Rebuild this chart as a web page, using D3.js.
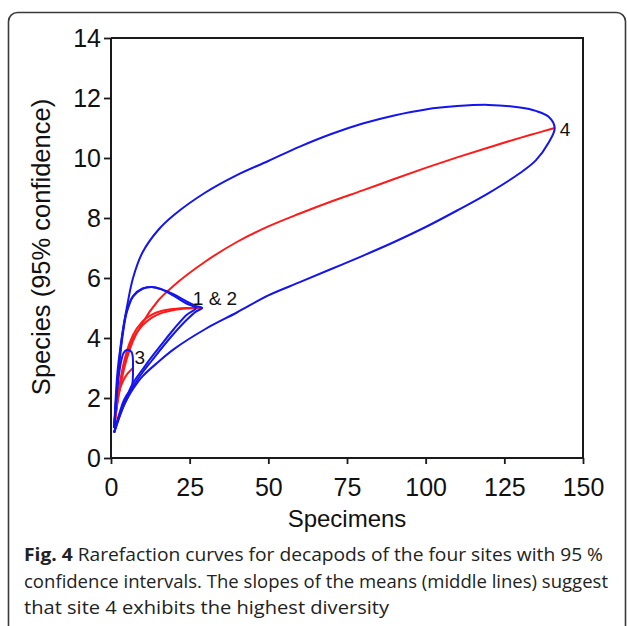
<!DOCTYPE html>
<meta charset="utf-8">
<script src="https://cdn.jsdelivr.net/npm/d3@7"></script>
<style>
  body { margin: 0; background: #fff; }
  svg { display: block; }
</style>
<svg></svg>
<script>
// ---- data ----
// site 1
var x1 = [1, 2, 3, 4, 5, 7, 10, 13, 16, 20, 24, 27];
var mean1 = [1, 1.9, 2.6, 3.15, 3.55, 4.1, 4.55, 4.78, 4.9, 4.97, 5.0, 5.0];
var upper1 = [1, 2.5, 3.6, 4.4, 4.9, 5.4, 5.65, 5.7, 5.62, 5.4, 5.15, 5.0];
var lower1 = [0.85, 1.2, 1.5, 1.8, 2.05, 2.5, 2.95, 3.38, 3.78, 4.3, 4.77, 5.0];
// site 2
var x2 = [1, 2, 3, 4, 5, 7, 10, 13, 16, 20, 24, 27, 29];
var mean2 = [1, 1.85, 2.5, 3.05, 3.45, 3.98, 4.42, 4.68, 4.83, 4.93, 4.98, 5.0, 5.0];
var upper2 = [1, 2.4, 3.5, 4.3, 4.85, 5.38, 5.64, 5.7, 5.63, 5.45, 5.22, 5.07, 5.0];
var lower2 = [0.85, 1.15, 1.45, 1.72, 1.95, 2.38, 2.85, 3.25, 3.65, 4.15, 4.6, 4.88, 5.0];
// site 3
var x3 = [1, 2, 3, 4, 5, 6.5, 7];
var mean3 = [1, 1.95, 2.35, 2.6, 2.78, 2.95, 3.0];
var upper3 = [1, 2.3, 3.1, 3.5, 3.6, 3.54, 3.0];
var lower3 = [0.85, 1.25, 1.6, 1.9, 2.1, 2.32, 3.0];
// site 4
var x4 = [1, 2, 3, 4, 5, 7, 10, 15, 20, 30, 40, 50, 60, 70, 80, 90, 100, 110, 120, 130, 135, 139, 141];
var mean4 = [1, 1.8, 2.4, 2.9, 3.3, 3.9, 4.5, 5.25, 5.75, 6.55, 7.2, 7.72, 8.15, 8.55, 8.92, 9.3, 9.67, 10.02, 10.35, 10.67, 10.82, 10.94, 11.0];
var upper4 = [1, 2.8, 3.7, 4.4, 5.0, 6.0, 6.85, 7.6, 8.1, 8.85, 9.43, 9.9, 10.38, 10.8, 11.15, 11.42, 11.62, 11.73, 11.77, 11.68, 11.57, 11.38, 11.0];
var lower4 = [0.85, 1.2, 1.5, 1.75, 1.95, 2.3, 2.72, 3.2, 3.63, 4.3, 4.85, 5.42, 5.86, 6.3, 6.74, 7.2, 7.7, 8.25, 8.83, 9.5, 9.92, 10.5, 11.0];

var xTicks = [0, 25, 50, 75, 100, 125, 150];
var yTicks = [0, 2, 4, 6, 8, 10, 12, 14];

var siteLabels = ["1 & 2", "3", "4"];
var siteLabelPos = [[26, 5.33], [7.5, 3.35], [142.6, 10.95]];

var captionLines = [
  ["Fig. 4", " Rarefaction curves for decapods of the four sites with 95 %"],
  ["", "confidence intervals. The slopes of the means (middle lines) suggest"],
  ["", "that site 4 exhibits the highest diversity"]
];

// ---- layout ----
var W = 627, H = 626;
var svg = d3.select("svg").attr("width", W).attr("height", H);

// figure frame
svg.append("rect")
  .attr("x", 8.5).attr("y", 12.5)
  .attr("width", 617).attr("height", 660)
  .attr("rx", 9)
  .attr("fill", "none")
  .attr("stroke", "#3a3a3a")
  .attr("stroke-width", 1.6);

var x = d3.scaleLinear().domain([0, 150]).range([111, 583]);
var y = d3.scaleLinear().domain([0, 14]).range([458, 38]);

var sites = [
  { xs: x1, mean: mean1, upper: upper1, lower: lower1 },
  { xs: x2, mean: mean2, upper: upper2, lower: lower2 },
  { xs: x3, mean: mean3, upper: upper3, lower: lower3 },
  { xs: x4, mean: mean4, upper: upper4, lower: lower4 }
];

var meanLine = d3.line()
  .x(function(d) { return x(d[0]); })
  .y(function(d) { return y(d[1]); })
  .curve(d3.curveMonotoneX);

var loopLine = d3.line()
  .x(function(d) { return x(d[0]); })
  .y(function(d) { return y(d[1]); })
  .curve(d3.curveCatmullRom.alpha(0.5));

var g = svg.append("g");

// means (red)
sites.forEach(function(s) {
  var pts = s.xs.map(function(v, i) { return [v, s.mean[i]]; });
  g.append("path")
    .attr("d", meanLine(pts))
    .attr("fill", "none")
    .attr("stroke", "#ff1a1a")
    .attr("stroke-width", 2);
});

// confidence intervals (blue): upper out, lower back
sites.forEach(function(s) {
  var up = s.xs.map(function(v, i) { return [v, s.upper[i]]; });
  var lo = s.xs.map(function(v, i) { return [v, s.lower[i]]; }).reverse().slice(1);
  g.append("path")
    .attr("d", loopLine(up.concat(lo)))
    .attr("fill", "none")
    .attr("stroke", "#1414f0")
    .attr("stroke-width", 2);
});

var axisFont = "Liberation Sans, Arial, sans-serif";

// site labels
g.selectAll(".site-label")
  .data(siteLabels)
  .enter().append("text")
  .attr("class", "site-label")
  .attr("x", function(d, i) { return x(siteLabelPos[i][0]); })
  .attr("y", function(d, i) { return y(siteLabelPos[i][1]); })
  .attr("dy", "0.35em")
  .attr("font-family", axisFont)
  .attr("font-size", 19)
  .attr("fill", "#111")
  .text(function(d) { return d; });

// axes
var xAxis = svg.append("g")
  .attr("transform", "translate(0," + y(0) + ")")
  .call(d3.axisBottom(x).tickValues(xTicks).tickSize(6).tickPadding(14));

var yAxis = svg.append("g")
  .attr("transform", "translate(" + x(0) + ",0)")
  .call(d3.axisLeft(y).tickValues(yTicks).tickSize(7).tickPadding(3));

[xAxis, yAxis].forEach(function(a) {
  a.select(".domain").attr("stroke", "#1a1a1a").attr("stroke-width", 2);
  a.selectAll(".tick line").attr("stroke", "#1a1a1a").attr("stroke-width", 1.8);
  a.selectAll(".tick text")
    .attr("font-family", axisFont)
    .attr("font-size", 25)
    .attr("fill", "#111");
});
xAxis.select(".domain").attr("d", "M" + x(0) + ",0H" + x(150));
yAxis.select(".domain").attr("d", "M0," + y(0) + "V" + y(14));

// top and right edges of the plot box
svg.append("path")
  .attr("d", "M" + x(0) + "," + y(14) + "H" + x(150) + "V" + y(0))
  .attr("fill", "none")
  .attr("stroke", "#1a1a1a")
  .attr("stroke-width", 2);

// axis titles
svg.append("text")
  .attr("x", x(75)).attr("y", 527)
  .attr("text-anchor", "middle")
  .attr("font-family", axisFont)
  .attr("font-size", 24)
  .attr("fill", "#111")
  .text("Specimens");

svg.append("text")
  .attr("transform", "translate(50,247) rotate(-90)")
  .attr("text-anchor", "middle")
  .attr("font-family", axisFont)
  .attr("font-size", 25.5)
  .attr("fill", "#111")
  .text("Species (95% confidence)");

// caption
var capWidths = [579, 584, 365];
var cap = svg.append("g").attr("font-family", "Open Sans, sans-serif").attr("font-size", 18.5).attr("fill", "#222");
captionLines.forEach(function(line, i) {
  var t = cap.append("text").attr("x", 24).attr("y", 561 + i * 26.7)
    .attr("textLength", capWidths[i])
    .attr("lengthAdjust", "spacingAndGlyphs");
  if (line[0]) t.append("tspan").attr("font-weight", "bold").text(line[0]);
  t.append("tspan").text(line[1]);
});
</script>
